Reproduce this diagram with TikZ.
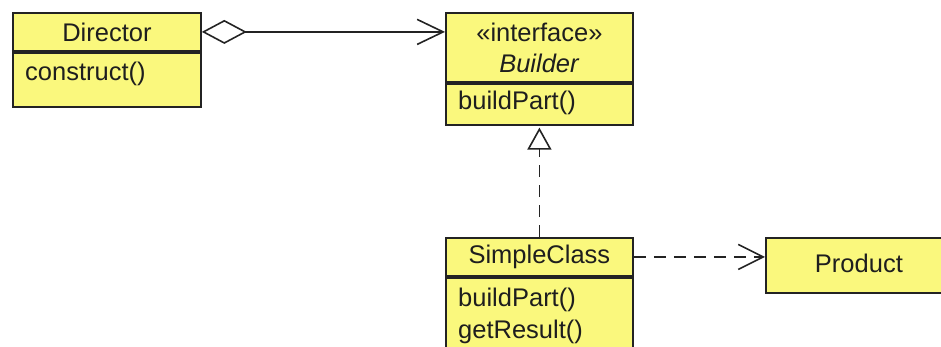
\documentclass[tikz,border=0pt]{standalone}
\usepackage{fontspec}
\setmainfont{Liberation Sans}
\usetikzlibrary{arrows.meta}
\definecolor{umlfill}{RGB}{250,248,125}
\definecolor{umlline}{RGB}{35,35,35}
\definecolor{umltext}{RGB}{30,30,30}
\begin{document}
\begin{tikzpicture}[x=1pt,y=1pt,
  box/.style={draw=umlline, line width=1.8pt, fill=umlfill, inner sep=0pt, anchor=north west,
    font=\fontsize{25.5}{33}\selectfont, text=umltext, align=center},
  lbl/.style={font=\fontsize{25.5}{31}\selectfont, text=umltext, inner sep=0pt, anchor=west},
  conn/.style={draw=umlline, line width=1.6pt},
  dashconn/.style={conn, dash pattern=on 12pt off 8pt}]
\useasboundingbox (0,0) rectangle (941,-346);
\clip (0,0) rectangle (941,-346);
% Director
\node[box, minimum width=188pt, minimum height=38pt] (dirH) at (12,-12) {Director};
\node[box, minimum width=188pt, minimum height=54pt] (dirB) at (dirH.south west) {};
\node[lbl] (dirM) at ([xshift=13pt,yshift=-22pt]dirB.north west) {construct()};
% Builder
\node[box, minimum width=187pt, minimum height=69pt] (bldH) at (445,-12) {\raisebox{-2pt}{«interface»}\\\textit{Builder}};
\node[box, minimum width=187pt, minimum height=41pt] (bldB) at (bldH.south west) {};
\node[lbl] (bldM) at ([xshift=13pt,yshift=-20pt]bldB.north west) {buildPart()};
% SimpleClass
\node[box, minimum width=187pt, minimum height=38pt] (scH) at (445,-237) {SimpleClass};
\node[box, minimum width=187pt, minimum height=80pt] (scB) at (scH.south west) {};
\node[lbl] (scM1) at ([xshift=13pt,yshift=-23pt]scB.north west) {buildPart()};
\node[lbl] (scM2) at ([xshift=13pt,yshift=-55pt]scB.north west) {getResult()};
% Product
\node[box, minimum width=190pt, minimum height=55pt] (prod) at (765,-237) {\hspace*{-4pt}\raisebox{4pt}{Product}};
% connectors
\draw[conn, {Diamond[open, length=45pt, width=24pt, line width=1.6pt]}-{Straight Barb[length=26pt, width=25pt, line width=1.6pt]}]
  (dirH.east) -- (dirH.east -| bldH.west);
\draw[dashconn, -{Triangle[open, fill=white, length=22pt, width=24pt, line width=1.6pt, sep=2pt]}]
  (scH.north) -- (bldB.south);
\draw[dashconn, -{Straight Barb[length=25pt, width=25pt, line width=1.6pt]}]
  (scH.east) -- (scH.east -| prod.west);
\end{tikzpicture}
\end{document}
